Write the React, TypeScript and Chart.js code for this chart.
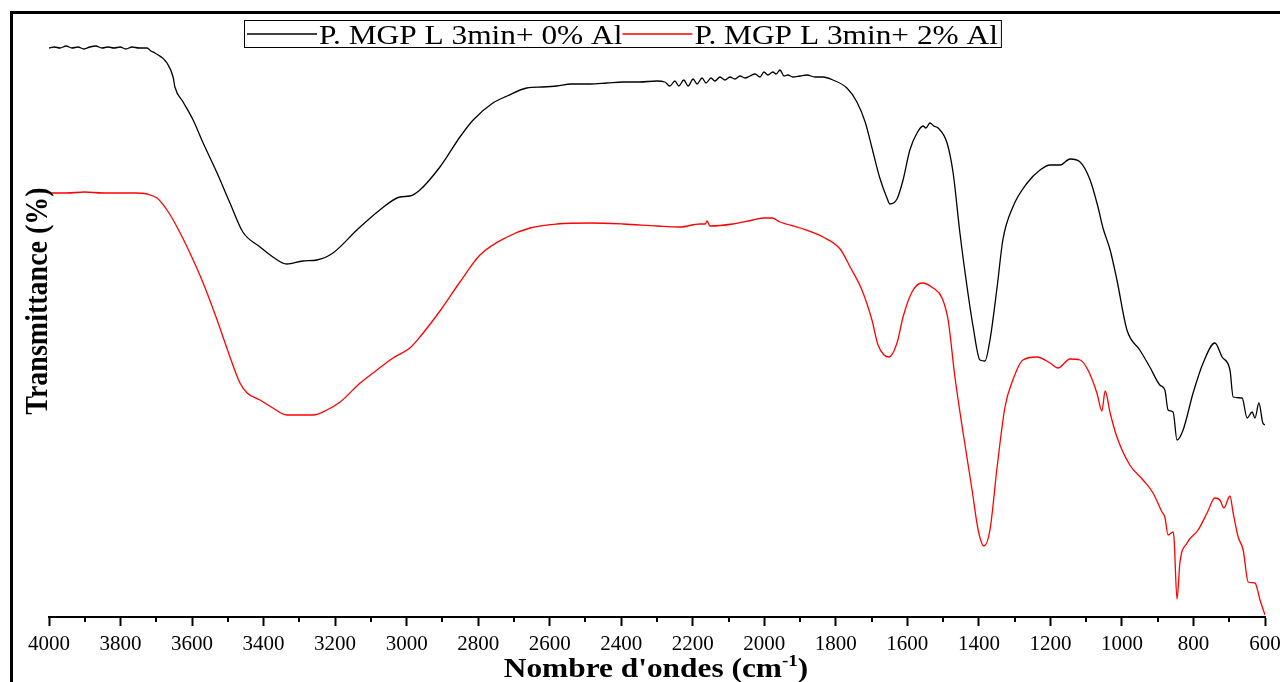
import React, { useEffect, useRef } from "react";
import { Chart, registerables } from "chart.js";

Chart.register(...registerables);

// ---- Data ----
const seriesLabels = ["P. MGP L 3min+ 0% Al", "P. MGP L 3min+ 2% Al"];
const seriesColors = ["#000000", "#ff0000"];

const wnBlack = [
  4000, 3985, 3969, 3952, 3936, 3919, 3902, 3886, 3869, 3852, 3835, 3818, 3801, 3785, 3768, 3748, 3726, 3715, 3704,
  3670, 3653, 3648, 3625, 3597, 3569, 3530, 3494, 3458, 3410, 3374, 3335, 3290, 3251, 3206, 3139, 3075, 3019, 2991,
  2963, 2907, 2851, 2814, 2759, 2719, 2664, 2620, 2580, 2540, 2487, 2440, 2395, 2350, 2300, 2278, 2264, 2250, 2239,
  2225, 2213, 2199, 2188, 2174, 2163, 2149, 2138, 2124, 2110, 2096, 2082, 2068, 2054, 2040, 2026, 2012, 2001, 1990,
  1976, 1967, 1956, 1945, 1934, 1920, 1900, 1881, 1858, 1836, 1808, 1769, 1741, 1718, 1696, 1677, 1657, 1649, 1629,
  1612, 1593, 1573, 1556, 1548, 1537, 1526, 1514, 1489, 1472, 1453, 1433, 1416, 1397, 1383, 1369, 1349, 1333, 1305,
  1265, 1229, 1201, 1173, 1145, 1117, 1089, 1067, 1053, 1033, 1014, 986, 950, 922, 894, 880, 871, 857, 846, 829, 801,
  773, 740, 720, 698, 689, 664, 650, 636, 628, 617, 606, 600,
];
const tBlack = [
  569, 570, 569, 571, 569, 570, 568, 570, 571, 569, 570, 569, 570, 568, 570, 569, 569, 566, 564,
  554, 540, 530, 515, 497, 474, 444, 414, 385, 370, 360, 353, 356, 357, 364, 387, 407, 420, 421,
  427, 450, 480, 497, 514, 521, 529, 530, 531, 533, 533, 534, 535, 535, 536, 535, 531, 536, 531,
  537, 531, 538, 533, 539, 534, 539, 536, 540, 537, 540, 538, 541, 539, 541, 543, 540, 545, 542,
  545, 543, 547, 541, 542, 540, 541, 542, 540, 540, 537, 529, 515, 495, 465, 439, 419, 413, 418,
  437, 467, 484, 491, 489, 494, 491, 489, 474, 444, 384, 330, 290, 257, 256, 277, 330, 377, 410,
  434, 447, 452, 452, 458, 455, 437, 410, 389, 367, 337, 287, 267, 250, 232, 227, 207, 205, 177, 187, 224,
  254, 274, 260, 247, 220, 219, 199, 205, 199, 214, 194, 192,
];

const wnRed = [
  4000, 3950, 3900, 3850, 3800, 3760, 3726, 3698, 3670, 3642, 3606, 3569, 3530, 3494, 3466, 3446, 3410, 3374, 3335,
  3300, 3262, 3223, 3186, 3130, 3083, 3038, 2991, 2963, 2907, 2851, 2795, 2719, 2655, 2580, 2487, 2395, 2300, 2236,
  2180, 2165, 2160, 2152, 2088, 2032, 2000, 1978, 1956, 1900, 1836, 1788, 1760, 1727, 1699, 1682, 1665, 1651, 1629,
  1612, 1587, 1559, 1528, 1503, 1486, 1467, 1444, 1419, 1402, 1386, 1369, 1349, 1327, 1305, 1277, 1238, 1201, 1179,
  1145, 1117, 1095, 1070, 1056, 1047, 1033, 1014, 978, 941, 913, 888, 880, 871, 857, 854, 846, 838, 818, 787, 762,
  740, 726, 715, 698, 689, 675, 661, 647, 628, 614, 600,
];
const tRed = [
  424, 424, 425, 424, 424, 424, 423, 419, 407, 390, 364, 334, 297, 260, 234, 224, 217, 209, 202,
  202, 202, 207, 215, 234, 247, 259, 269, 280, 306, 335, 362, 380, 389, 393, 394, 393, 391, 390,
  393, 393, 396, 391, 393, 397, 399, 399, 395, 389, 380, 368, 350, 327, 297, 272, 262, 260, 274,
  300, 325, 334, 329, 319, 297, 240, 184, 127, 87, 71, 87, 150, 210, 237, 257, 260, 254, 249,
  258, 257, 247, 224, 206, 226, 204, 180, 152, 137, 124, 105, 100, 82, 85, 77, 18, 54, 74, 87, 104,
  119, 117, 109, 121, 104, 80, 67, 35, 34, 17, 2,
];

const xMajorTicks = [4000, 3800, 3600, 3400, 3200, 3000, 2800, 2600, 2400, 2200, 2000, 1800, 1600, 1400, 1200, 1000, 800, 600];
const xMinorTicks = [3900, 3700, 3500, 3300, 3100, 2900, 2700, 2500, 2300, 2100, 1900, 1700, 1500, 1300, 1100, 900, 700];
const xTitleMain = "Nombre d'ondes (cm";
const xTitleSup = "-1";
const xTitleEnd = ")";
const yTitle = "Transmittance (%)";

const SERIF = "'Liberation Serif', 'Times New Roman', Times, serif";
const SX = 1.12; // horizontal stretch of the reference text

const decorations = {
  id: "decorations",
  afterDraw(chart: any) {
    const ctx = chart.ctx as CanvasRenderingContext2D;
    const xs = chart.scales.x;
    const area = chart.chartArea;
    ctx.save();

    // outer frame (left and top)
    ctx.strokeStyle = "#000";
    ctx.lineWidth = 3;
    ctx.beginPath();
    ctx.moveTo(11.5, 682);
    ctx.lineTo(11.5, 12.5);
    ctx.lineTo(1280, 12.5);
    ctx.stroke();

    // minor ticks
    ctx.lineWidth = 2;
    ctx.beginPath();
    for (const v of xMinorTicks) {
      const px = Math.round(xs.getPixelForValue(v));
      ctx.moveTo(px, area.bottom);
      ctx.lineTo(px, area.bottom + 5);
    }
    ctx.stroke();

    // legend
    ctx.font = `28px ${SERIF}`;
    ctx.textBaseline = "alphabetic";
    ctx.textAlign = "left";
    const sample = 70;
    const gap = 2;
    const pad = 3;
    const widths = seriesLabels.map((l) => ctx.measureText(l).width * SX);
    const total = pad * 2 + widths.reduce((a, w) => a + w + sample + gap, 0);
    const left = Math.round(622 - total / 2);
    ctx.lineWidth = 1;
    ctx.strokeStyle = "#000";
    ctx.strokeRect(left + 0.5, 20.5, total, 27);
    let cx = left + pad;
    seriesLabels.forEach((label, i) => {
      ctx.strokeStyle = seriesColors[i];
      ctx.lineWidth = 1.3;
      ctx.beginPath();
      ctx.moveTo(cx, 34);
      ctx.lineTo(cx + sample, 34);
      ctx.stroke();
      cx += sample + gap;
      ctx.save();
      ctx.translate(cx, 44);
      ctx.scale(SX, 1);
      ctx.fillStyle = "#000";
      ctx.fillText(label, 0, 0);
      ctx.restore();
      cx += widths[i];
    });

    // x axis title with superscript
    ctx.fillStyle = "#000";
    const bigFont = `bold 28px ${SERIF}`;
    const supFont = `bold 17px ${SERIF}`;
    ctx.font = bigFont;
    const w1 = ctx.measureText(xTitleMain).width;
    const w3 = ctx.measureText(xTitleEnd).width;
    ctx.font = supFont;
    const w2 = ctx.measureText(xTitleSup).width;
    const tw = (w1 + w2 + w3) * SX;
    const tx = 656 - tw / 2;
    const ty = 677;
    ctx.save();
    ctx.translate(tx, ty);
    ctx.scale(SX, 1);
    ctx.font = bigFont;
    ctx.fillText(xTitleMain, 0, 0);
    ctx.font = supFont;
    ctx.fillText(xTitleSup, w1, -11);
    ctx.font = bigFont;
    ctx.fillText(xTitleEnd, w1 + w2, 0);
    ctx.restore();

    // y axis title
    ctx.save();
    ctx.translate(47, 301);
    ctx.rotate(-Math.PI / 2);
    ctx.scale(1, SX);
    ctx.font = bigFont;
    ctx.textAlign = "center";
    ctx.fillText(yTitle, 0, 0);
    ctx.restore();

    ctx.restore();
  },
};

export default function App() {
  const canvasRef = useRef<HTMLCanvasElement | null>(null);

  useEffect(() => {
    if (!canvasRef.current) return;
    const chart = new Chart(canvasRef.current, {
      type: "line",
      data: {
        datasets: [
          {
            label: seriesLabels[0],
            data: wnBlack.map((x, i) => ({ x, y: tBlack[i] })),
            borderColor: seriesColors[0],
            borderWidth: 1.3,
            pointRadius: 0,
            cubicInterpolationMode: "monotone",
            fill: false,
          },
          {
            label: seriesLabels[1],
            data: wnRed.map((x, i) => ({ x, y: tRed[i] })),
            borderColor: seriesColors[1],
            borderWidth: 1.3,
            pointRadius: 0,
            cubicInterpolationMode: "monotone",
            fill: false,
          },
        ],
      },
      options: {
        responsive: false,
        animation: false,
        devicePixelRatio: 1,
        layout: { padding: { left: 49, right: 15, top: 10, bottom: 0 } },
        plugins: { legend: { display: false }, tooltip: { enabled: false } },
        scales: {
          x: {
            type: "linear",
            reverse: true,
            min: 600,
            max: 4000,
            afterBuildTicks: (s: any) => {
              s.ticks = xMajorTicks.map((v) => ({ value: v }));
            },
            afterFit: (s: any) => {
              s.height = 65;
              s.paddingLeft = 0;
              s.paddingRight = 0;
            },
            grid: {
              display: true,
              drawOnChartArea: false,
              drawTicks: true,
              tickLength: 9,
              tickWidth: 2,
              color: "#000",
              tickColor: "#000",
            },
            border: { display: true, color: "#000", width: 2 },
            ticks: {
              autoSkip: false,
              maxRotation: 0,
              minRotation: 0,
              padding: 6,
              color: "#000",
              font: { family: SERIF, size: 21 },
              callback: (v: any) => String(v),
            },
          },
          y: {
            type: "linear",
            display: false,
            min: 0,
            max: 607,
          },
        },
      },
      plugins: [decorations],
    });
    return () => chart.destroy();
  }, []);

  return (
    <div style={{ position: "fixed", left: 0, top: 0, width: 1280, height: 682, background: "#fff" }}>
      <canvas ref={canvasRef} width={1280} height={682} style={{ display: "block" }} />
    </div>
  );
}
